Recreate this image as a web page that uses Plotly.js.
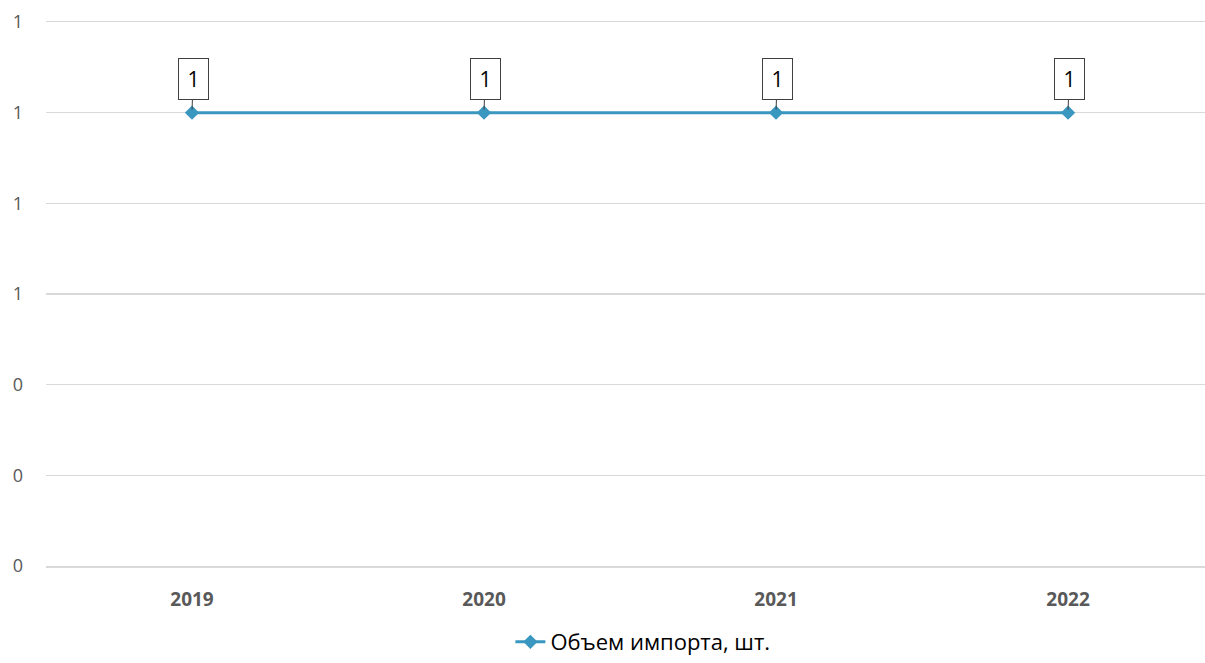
<!DOCTYPE html>
<html>
<head>
<meta charset="utf-8">
<script src="https://cdn.plot.ly/plotly-3.0.1.min.js"></script>
<style>html,body{margin:0;padding:0;background:#fff;}#chart{width:1205px;height:663px;}</style>
</head>
<body>
<div id="chart"></div>
<script>
const years = ['2019', '2020', '2021', '2022'];
const importVolume = [1, 1, 1, 1];
const labelTexts = ['1', '1', '1', '1'];
const seriesName = 'Объем импорта, шт.';

const lineColor = '#3A97BF';
const font = '"Open Sans", "Noto Sans", sans-serif';

const trace = {
  x: years, y: importVolume, type: 'scatter', mode: 'lines+markers',
  name: seriesName,
  line: {color: lineColor, width: 3},
  marker: {symbol: 'diamond', size: 11, color: lineColor},
  hoverinfo: 'skip'
};

const annotations = years.map((yr, i) => ({
  x: i, y: importVolume[i], xref: 'x', yref: 'y',
  text: labelTexts[i], showarrow: true, arrowhead: 0, arrowwidth: 1,
  arrowcolor: '#404040', ax: 1, ay: -34, standoff: 3,
  bordercolor: '#404040', borderwidth: 1, bgcolor: '#ffffff',
  width: 27, height: 38, borderpad: 1,
  font: {family: font, size: 21, color: '#000000'}
}));

const layout = {
  width: 1205, height: 663,
  margin: {l: 46, r: 0, t: 22, b: 97},
  paper_bgcolor: '#ffffff', plot_bgcolor: '#ffffff',
  showlegend: true,
  legend: {orientation: 'h', x: 0.515, xanchor: 'center', yref: 'container', y: 0.0, yanchor: 'bottom',
           font: {family: font, size: 22, color: '#000000'}},
  xaxis: {type: 'category', range: [-0.5, 3.469], showgrid: false, zeroline: false,
          showline: true, mirror: true, linecolor: '#D9D9D9', linewidth: 1.5,
          ticks: '', ticklabelstandoff: 16,
          tickfont: {family: font, size: 19, color: '#595959', weight: 'bold'}},
  yaxis: {range: [0, 1.2], dtick: 0.2, tick0: 0, tickformat: '.0f',
          showgrid: true, gridcolor: '#D9D9D9', gridwidth: 1.5, zeroline: false,
          showline: false, ticks: '', ticklabelstandoff: 22,
          tickfont: {family: font, size: 18, color: '#595959'}},
  annotations: annotations
};

Plotly.newPlot('chart', [trace], layout, {staticPlot: true, displayModeBar: false});
</script>
</body>
</html>
